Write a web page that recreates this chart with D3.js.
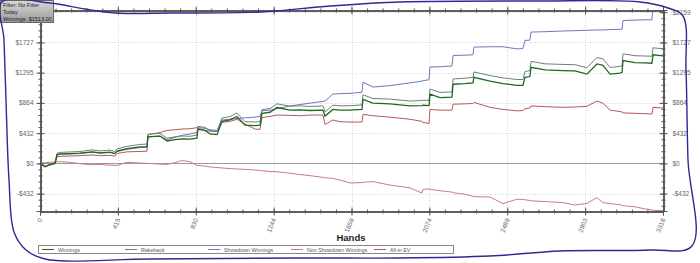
<!DOCTYPE html>
<html><head><meta charset="utf-8">
<script src="https://cdn.jsdelivr.net/npm/d3@7/dist/d3.min.js"></script>
<style>
html,body{margin:0;padding:0;background:#fff;}
svg{display:block;font-family:"Liberation Sans",Arial,sans-serif;}
</style></head>
<body>
<svg id="c" width="700" height="263"></svg>
<script>
// ---------- data ----------
const hands = [0,27,53,80,91,107,160,213,277,320,373,399,410,463,533,570,575,639,676,719,756,799,836,841,879,905,943,969,1012,1049,1092,1145,1172,1182,1225,1262,1331,1385,1438,1507,1518,1560,1598,1651,1715,1720,1773,1864,1971,2034,2040,2072,2077,2130,2194,2200,2263,2306,2311,2397,2466,2540,2572,2583,2609,2615,2690,2785,2849,2913,2966,2998,3036,3089,3100,3105,3169,3222,3259,3265,3318];
const winnings = [0,-50,-20,0,125,135,140,145,165,150,160,140,175,210,235,240,380,390,320,340,350,345,360,485,470,420,410,600,620,670,545,540,545,715,730,797,760,765,755,760,675,770,760,760,770,915,860,850,820,825,830,825,988,940,945,1130,1140,1150,1228,1175,1140,1115,1115,1228,1240,1372,1335,1325,1320,1275,1420,1400,1275,1290,1300,1468,1440,1435,1430,1550,1535];
const rakeback = [0,-48,-15,8,145,157,163,170,192,178,190,170,206,243,270,276,416,428,359,380,391,387,403,528,514,465,456,647,668,719,595,591,597,767,783,851,816,822,813,820,735,831,822,823,835,980,926,918,890,897,902,898,1061,1014,1020,1205,1216,1227,1305,1254,1220,1197,1198,1311,1324,1456,1421,1413,1409,1366,1512,1493,1369,1385,1396,1564,1537,1533,1529,1650,1635];
const showdown = [0,-50,-20,0,120,130,135,140,160,145,155,140,170,200,225,230,380,390,340,370,400,420,440,510,500,480,470,620,630,640,650,660,670,750,760,780,820,840,860,885,890,990,995,1000,1015,1160,1090,1110,1150,1175,1180,1195,1375,1380,1390,1540,1545,1550,1660,1665,1665,1635,1640,1755,1760,1875,1880,1890,1895,1900,1905,1905,1910,1915,1915,2040,2045,2050,2050,2260,2280];
const nonShowdown = [0,10,15,20,20,25,15,-5,-20,-15,-25,-30,-30,15,5,0,0,-10,-15,10,40,25,-30,-30,-40,-50,-60,-65,-75,-80,-85,-95,-100,-105,-115,-120,-140,-160,-175,-200,-205,-215,-240,-280,-275,-270,-260,-310,-350,-425,-370,-365,-370,-390,-410,-420,-440,-470,-475,-480,-575,-512,-515,-520,-530,-535,-545,-560,-595,-570,-490,-560,-575,-590,-600,-605,-620,-650,-665,-670,-675];
const allInEV = [0,-40,-10,0,95,100,105,110,120,110,115,105,140,165,170,175,410,440,470,480,490,495,510,500,470,460,455,585,600,630,560,490,485,655,670,690,685,680,690,690,555,620,595,590,590,700,680,660,630,600,585,570,770,760,760,845,850,855,870,800,770,750,755,780,790,820,810,800,805,815,890,860,760,740,735,720,715,710,705,800,790];

const seriesNames = ["Winnings","Rakeback","Showdown Winnings","Non Showdown Winnings","All-in EV"];
const seriesColors = ["#1d6a1d","#6f7f7c","#7474c8","#cc7b7b","#b55858"];
const yTicks = [-431.75,0,431.75,863.5,1295.25,1727,2158.75];
const yTickLabels = ["-$432","$0","$432","$864","$1295","$1727","$2159"];
const xTicks = [0,414.75,829.5,1244.25,1659,2073.75,2488.5,2903.25,3318];
const xTickLabels = ["0","415","830","1244","1659","2074","2489","2903","3318"];
const infoLines = ["Filter: No Filter","Today","Winnings: $1513.00"];
const axisTitle = "Hands";

// ---------- layout ----------
const L=40, R=663, T=10, B=211;
const svg = d3.select("#c");
const x = d3.scaleLinear().domain([0,3318]).range([L,R]);
const y = d3.scaleLinear().domain([-680,2190]).range([B,T]);

// gridlines
const g = svg.append("g");
g.selectAll(".hg").data(yTicks.filter(v=>v!==0)).enter().append("line")
 .attr("x1",L).attr("x2",R).attr("y1",d=>Math.round(y(d))+0.5).attr("y2",d=>Math.round(y(d))+0.5)
 .attr("stroke","#d6d6d6").attr("stroke-dasharray","1,1.5").attr("stroke-width",1);
g.selectAll(".vg").data(xTicks.slice(1,-1)).enter().append("line")
 .attr("y1",T).attr("y2",B).attr("x1",d=>Math.round(x(d))+0.5).attr("x2",d=>Math.round(x(d))+0.5)
 .attr("stroke","#d6d6d6").attr("stroke-dasharray","1,1.5").attr("stroke-width",1);
// zero line
g.append("line").attr("x1",L).attr("x2",R).attr("y1",Math.round(y(0))+0.5).attr("y2",Math.round(y(0))+0.5)
 .attr("stroke","#9a9a9a").attr("stroke-width",1);

// series
svg.append("clipPath").attr("id","clip").append("rect").attr("x",L).attr("y",T).attr("width",R-L).attr("height",B-T);
const line = d3.line().x((d,i)=>x(hands[i])).y(d=>y(d));
const order = [3,4,2,1,0];
const allSeries = [winnings,rakeback,showdown,nonShowdown,allInEV];
const lg = svg.append("g").attr("clip-path","url(#clip)");
order.forEach(k=>{
  lg.append("path").datum(allSeries[k]).attr("d",line).attr("fill","none")
    .attr("stroke",seriesColors[k]).attr("stroke-width",k===0?1.3:1).attr("stroke-linejoin","miter");
});

// axes helper
function styleAxis(sel){
  sel.select(".domain").attr("stroke","#555");
  sel.selectAll(".tick line").attr("stroke","#555");
  sel.selectAll("text").attr("fill","#666").attr("font-size","6.5px").attr("font-family","Liberation Sans, Arial, sans-serif");
}
const yMinor = [];
for(let v=-431.75*2; v<=2300; v+=86.35){ if(v>=-680 && v<=2190) yMinor.push(v); }
const xMinor = d3.range(0,3318.1,82.95);

// left axis (crossing ticks); top label hidden behind the info box in the reference
svg.append("g").attr("transform",`translate(${L+0.5},0)`).call(d3.axisLeft(y).tickValues(yMinor).tickSize(2).tickFormat("")).call(styleAxis);
svg.append("g").attr("transform",`translate(${L+0.5},0)`).call(d3.axisRight(y).tickValues(yMinor).tickSize(2).tickFormat("")).call(styleAxis);
svg.append("g").attr("transform",`translate(${L+0.5},0)`).call(d3.axisLeft(y).tickValues(yTicks.slice(0,-1)).tickSize(4).tickPadding(3).tickFormat((d,i)=>yTickLabels[i])).call(styleAxis);
svg.append("g").attr("transform",`translate(${L+0.5},0)`).call(d3.axisRight(y).tickValues(yTicks).tickSize(4).tickFormat("")).call(styleAxis);
// right axis
svg.append("g").attr("transform",`translate(${R+0.5},0)`).call(d3.axisLeft(y).tickValues(yMinor).tickSize(2).tickFormat("")).call(styleAxis);
svg.append("g").attr("transform",`translate(${R+0.5},0)`).call(d3.axisRight(y).tickValues(yMinor).tickSize(2).tickFormat("")).call(styleAxis);
svg.append("g").attr("transform",`translate(${R+0.5},0)`).call(d3.axisLeft(y).tickValues(yTicks).tickSize(4).tickFormat("")).call(styleAxis);
svg.append("g").attr("transform",`translate(${R+0.5},0)`).call(d3.axisRight(y).tickValues(yTicks).tickSize(4).tickPadding(5).tickFormat((d,i)=>yTickLabels[i])).call(styleAxis);
// bottom axis
svg.append("g").attr("transform",`translate(0,${B+0.5})`).call(d3.axisBottom(x).tickValues(xMinor).tickSize(2).tickFormat("")).call(styleAxis);
svg.append("g").attr("transform",`translate(0,${B+0.5})`).call(d3.axisTop(x).tickValues(xMinor).tickSize(2).tickFormat("")).call(styleAxis);
svg.append("g").attr("transform",`translate(0,${B+0.5})`).call(d3.axisTop(x).tickValues(xTicks).tickSize(4).tickFormat("")).call(styleAxis);
const bx = svg.append("g").attr("transform",`translate(0,${B+0.5})`).call(d3.axisBottom(x).tickValues(xTicks).tickSize(4).tickFormat((d,i)=>xTickLabels[i])).call(styleAxis);
bx.selectAll("text").attr("text-anchor","end").attr("dy","0").attr("y",0)
  .attr("transform","translate(2,8) rotate(-68)");
// top axis
svg.append("g").attr("transform",`translate(0,${T+0.5})`).call(d3.axisTop(x).tickValues(xMinor).tickSize(2).tickFormat("")).call(styleAxis);
svg.append("g").attr("transform",`translate(0,${T+0.5})`).call(d3.axisBottom(x).tickValues(xMinor).tickSize(2).tickFormat("")).call(styleAxis);
svg.append("g").attr("transform",`translate(0,${T+0.5})`).call(d3.axisTop(x).tickValues(xTicks).tickSize(4).tickFormat("")).call(styleAxis);
svg.append("g").attr("transform",`translate(0,${T+0.5})`).call(d3.axisBottom(x).tickValues(xTicks).tickSize(4).tickFormat("")).call(styleAxis);

// axis title
svg.append("text").attr("x",351).attr("y",241).attr("text-anchor","middle")
  .attr("font-size","9.5px").attr("font-weight","bold").attr("fill","#222").text(axisTitle);

// legend
const leg = svg.append("g");
leg.append("rect").attr("x",38.5).attr("y",245.5).attr("width",415).attr("height",8).attr("fill","#fff").attr("stroke","#888").attr("stroke-width",1);
seriesNames.forEach((n,i)=>{
  const lx = 42 + 83*i;
  leg.append("line").attr("x1",lx).attr("x2",lx+12).attr("y1",249.5).attr("y2",249.5).attr("stroke",seriesColors[i]).attr("stroke-width",1);
  leg.append("text").attr("x",lx+16).attr("y",251.8).attr("font-size","5.3px").attr("fill","#555").text(n);
});

// info box
const defs = svg.append("defs");
const gr = defs.append("linearGradient").attr("id","ib").attr("x1",0).attr("y1",0).attr("x2",0).attr("y2",1);
gr.append("stop").attr("offset","0%").attr("stop-color","#d8d8d8");
gr.append("stop").attr("offset","100%").attr("stop-color","#9a9a9a");
svg.append("rect").attr("x",0.5).attr("y",0.5).attr("width",53).attr("height",22).attr("fill","url(#ib)").attr("stroke","#666");
infoLines.forEach((t,i)=>{
  svg.append("text").attr("x",3).attr("y",7+i*7).attr("font-size","5.5px").attr("fill","#222").text(t);
});

// hand-drawn blue outline annotation
const outline = [[2,2],[50,3],[85,9],[115,13],[170,13],[260,12],[330,6],[400,2],[540,1],[640,2],[668,8],[683,16],[686,70],[688,160],[692,246],[650,250],[560,251],[490,256],[400,258],[300,258],[150,259],[45,259],[26,250],[14,232],[9,180],[6,100],[4,40]];
svg.append("path").attr("d",d3.line().curve(d3.curveCatmullRomClosed)(outline))
  .attr("fill","none").attr("stroke","#2b2b95").attr("stroke-width",1.4);
</script>
</body></html>
